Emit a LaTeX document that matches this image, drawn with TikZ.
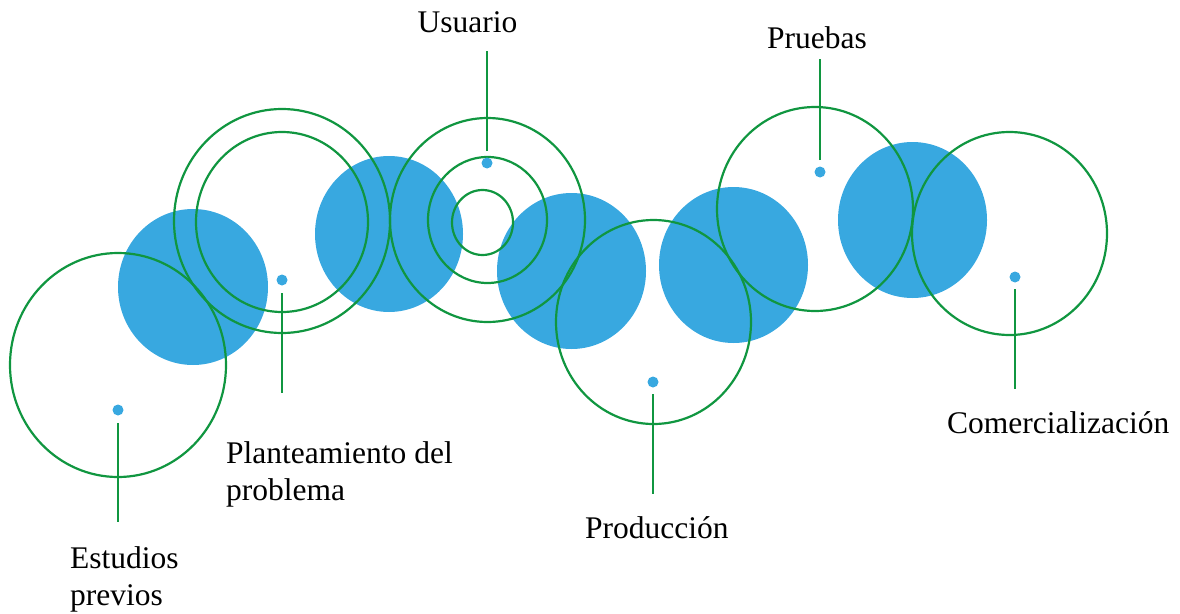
\documentclass[tikz,border=0pt]{standalone}
\usepackage{fontspec}
\setmainfont{Liberation Serif}
\definecolor{gr}{RGB}{16,150,64}
\definecolor{bl}{RGB}{56,168,224}
\tikzset{
  blob/.style={fill=bl, draw=none},
  ring/.style={draw=gr, line width=2.2pt},
  gline/.style={draw=gr, line width=2.2pt},
  dotmark/.style={circle, fill=bl, draw=none, inner sep=0pt, minimum size=11pt},
  lbl/.style={inner sep=0pt, font=\fontsize{31.5}{36.5}\selectfont, text=black},
}
\begin{document}
\begin{tikzpicture}[x=1pt,y=-1pt]
\useasboundingbox (0,0) rectangle (1180,613);
% blue discs
\fill[blob] (193,287) ellipse [x radius=75, y radius=78];
\fill[blob] (389,234) ellipse [x radius=74, y radius=78];
\fill[blob] (571.5,271) ellipse [x radius=74.5, y radius=78];
\fill[blob] (733.5,265) ellipse [x radius=74.5, y radius=78];
\fill[blob] (912.5,220) ellipse [x radius=74.5, y radius=78];
% green rings
\draw[ring] (118,365) ellipse [x radius=108, y radius=112];
\draw[ring] (282,221) ellipse [x radius=108, y radius=112];
\draw[ring] (282,222) ellipse [x radius=86, y radius=90];
\draw[ring] (487.5,220) ellipse [x radius=97.5, y radius=102];
\draw[ring] (487.5,220) ellipse [x radius=59.5, y radius=63];
\draw[ring] (482.5,222.5) ellipse [x radius=30.5, y radius=32.5];
\draw[ring] (653.5,322) ellipse [x radius=97.5, y radius=102];
\draw[ring] (815,209) ellipse [x radius=98, y radius=102];
\draw[ring] (1009.5,233.5) ellipse [x radius=97.5, y radius=101.5];
% dots
\node[dotmark] (d1) at (118,410) {};
\node[dotmark] (d2) at (282,280) {};
\node[dotmark] (d3) at (487,163) {};
\node[dotmark] (d4) at (653,382) {};
\node[dotmark] (d5) at (820,172) {};
\node[dotmark] (d6) at (1015,277) {};
% labels
\node[lbl, anchor=north west, align=left] (t1) at (70,546.5) {Estudios\\previos};
\node[lbl, anchor=north west, align=left] (t2) at (226,441.5) {Planteamiento del\\problema};
\node[lbl, anchor=base] (t3) at (467.5,32) {Usuario};
\node[lbl, anchor=base west] (t4) at (585,538) {Producción};
\node[lbl, anchor=base] (t5) at (817,48) {Pruebas};
\node[lbl, anchor=base west] (t6) at (947,433) {Comercialización};
% connectors
\coordinate (a1) at (118,423); \coordinate (b1) at (118,522);
\coordinate (a2) at (282,293); \coordinate (b2) at (282,393);
\coordinate (a3) at (487,151); \coordinate (b3) at (487,51);
\coordinate (a4) at (653,394); \coordinate (b4) at (653,494);
\coordinate (a5) at (820,160); \coordinate (b5) at (820,59);
\coordinate (a6) at (1015,289); \coordinate (b6) at (1015,389);
\draw[gline] (a1) -- (b1);
\draw[gline] (a2) -- (b2);
\draw[gline] (a3) -- (b3);
\draw[gline] (a4) -- (b4);
\draw[gline] (a5) -- (b5);
\draw[gline] (a6) -- (b6);
\end{tikzpicture}
\end{document}
